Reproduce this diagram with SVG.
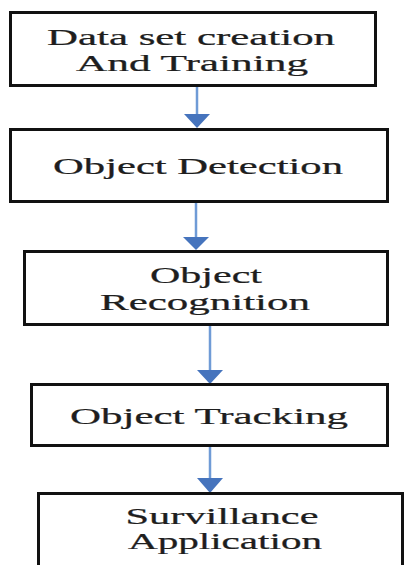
<svg xmlns="http://www.w3.org/2000/svg" width="406" height="565" viewBox="0 0 406 565">
<style>
.box{fill:#fff;stroke:#111;stroke-width:3}
.lbl{font-family:"Liberation Serif","Times New Roman",serif;font-size:24px;fill:#1e1e1e;stroke:#1e1e1e;stroke-width:0.25;text-anchor:middle}
.ln{stroke:#6f9bd6;stroke-width:2.5;fill:none}
.hd{fill:#4674bd}
</style>
<rect width="406" height="565" fill="#fff"/>
<g id="connectors">
<line class="ln" x1="197" y1="87" x2="197" y2="116"/>
<polygon class="hd" points="184,114 210,114 197,128"/>
<line class="ln" x1="196" y1="203" x2="196" y2="239"/>
<polygon class="hd" points="183,237 209,237 196,250"/>
<line class="ln" x1="210" y1="326" x2="210" y2="372"/>
<polygon class="hd" points="197,370 223,370 210,384"/>
<line class="ln" x1="210" y1="447" x2="210" y2="480"/>
<polygon class="hd" points="197,478 223,478 210,493"/>
</g>
<g id="n1">
<rect class="box" x="10.5" y="12.5" width="365" height="73"/>
<g transform="translate(191,45) scale(1.77,1)"><text class="lbl" x="0" y="0" textLength="162.7" lengthAdjust="spacingAndGlyphs">Data set creation</text></g>
<g transform="translate(192,71) scale(1.77,1)"><text class="lbl" x="0" y="0" textLength="131.1" lengthAdjust="spacingAndGlyphs">And Training</text></g>
</g>
<g id="n2">
<rect class="box" x="10.5" y="129.5" width="377" height="72"/>
<g transform="translate(198,174) scale(1.77,1)"><text class="lbl" x="0" y="0" textLength="163.8" lengthAdjust="spacingAndGlyphs">Object Detection</text></g>
</g>
<g id="n3">
<rect class="box" x="24.5" y="251.5" width="363" height="73"/>
<g transform="translate(206,283) scale(1.77,1)"><text class="lbl" x="0" y="0" textLength="63.3" lengthAdjust="spacingAndGlyphs">Object</text></g>
<g transform="translate(205,310) scale(1.77,1)"><text class="lbl" x="0" y="0" textLength="118.6" lengthAdjust="spacingAndGlyphs">Recognition</text></g>
</g>
<g id="n4">
<rect class="box" x="31.5" y="384.5" width="356" height="61"/>
<g transform="translate(209,424) scale(1.77,1)"><text class="lbl" x="0" y="0" textLength="157.1" lengthAdjust="spacingAndGlyphs">Object Tracking</text></g>
</g>
<g id="n5">
<rect class="box" x="38.5" y="493.5" width="364" height="90"/>
<g transform="translate(222,524) scale(1.77,1)"><text class="lbl" x="0" y="0" textLength="109" lengthAdjust="spacingAndGlyphs">Survillance</text></g>
<g transform="translate(225,549) scale(1.77,1)"><text class="lbl" x="0" y="0" textLength="109.6" lengthAdjust="spacingAndGlyphs">Application</text></g>
</g>
</svg>
